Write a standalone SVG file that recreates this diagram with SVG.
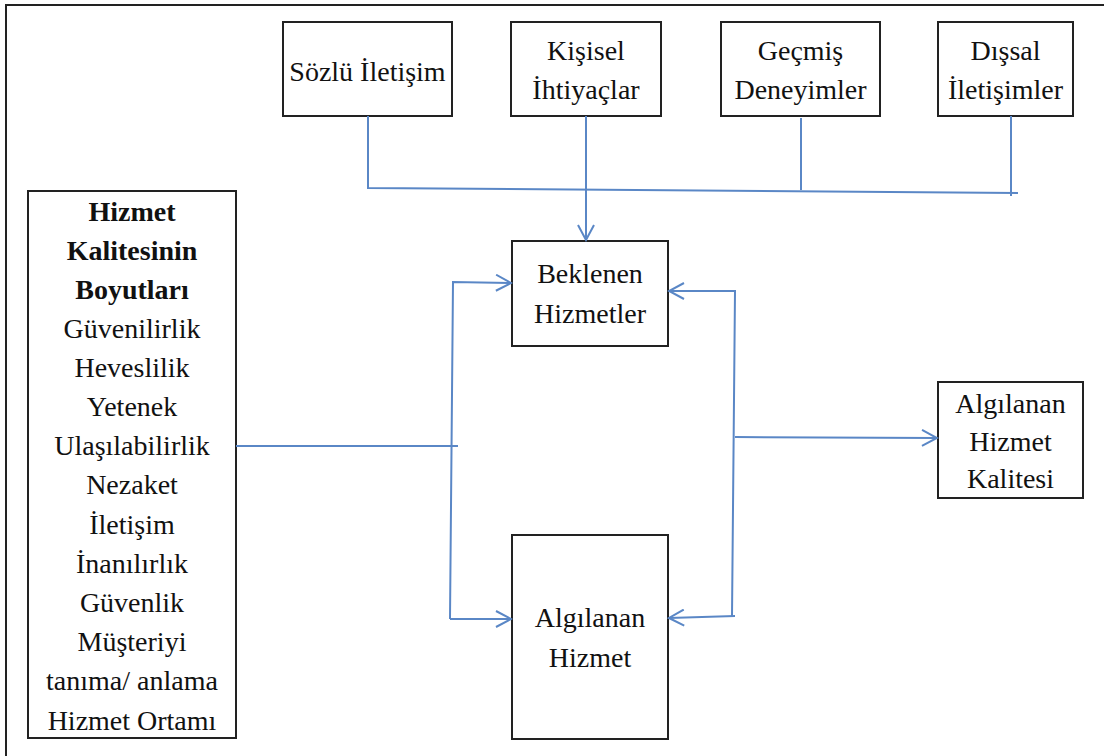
<svg xmlns="http://www.w3.org/2000/svg" width="1104" height="756" viewBox="0 0 1104 756">
<defs>
<style>
.box{fill:#fff;stroke:#222;stroke-width:2}
.t{font-family:"Liberation Serif","Times New Roman",serif;font-size:28px;fill:#111;text-anchor:middle}
.b{font-weight:bold}
.c{fill:none;stroke:#5a87c6;stroke-width:2}
</style>
<marker id="arr" markerWidth="18" markerHeight="18" viewBox="0 0 18 18" refX="16" refY="9" orient="auto" markerUnits="userSpaceOnUse">
<path d="M1,1 L16,9 L1,17" fill="none" stroke="#5a87c6" stroke-width="2"/>
</marker>
</defs>
<rect x="0" y="0" width="1104" height="756" fill="#fff"/>
<path d="M6,760 L6,5 L1110,5" fill="none" stroke="#222" stroke-width="2"/>

<g id="sozlu"><rect class="box" x="283" y="22" width="169" height="94"/><text class="t" x="367.5" y="81">Sözlü İletişim</text></g>
<g id="kisisel"><rect class="box" x="511" y="22" width="150" height="94"/><text class="t" x="586" y="60">Kişisel</text><text class="t" x="586" y="99">İhtiyaçlar</text></g>
<g id="gecmis"><rect class="box" x="721" y="22" width="159" height="94"/><text class="t" x="800.5" y="60">Geçmiş</text><text class="t" x="800.5" y="99">Deneyimler</text></g>
<g id="dissal"><rect class="box" x="938" y="22" width="135" height="94"/><text class="t" x="1005.5" y="60">Dışsal</text><text class="t" x="1005.5" y="99">İletişimler</text></g>

<g id="boyutlar"><rect class="box" x="28" y="191" width="208" height="547"/>
<text class="t b" x="132" y="221">Hizmet</text>
<text class="t b" x="132" y="260">Kalitesinin</text>
<text class="t b" x="132" y="299">Boyutları</text>
<text class="t" x="132" y="338">Güvenilirlik</text>
<text class="t" x="132" y="377">Heveslilik</text>
<text class="t" x="132" y="416">Yetenek</text>
<text class="t" x="132" y="455">Ulaşılabilirlik</text>
<text class="t" x="132" y="494">Nezaket</text>
<text class="t" x="132" y="534">İletişim</text>
<text class="t" x="132" y="573">İnanılırlık</text>
<text class="t" x="132" y="612">Güvenlik</text>
<text class="t" x="132" y="651">Müşteriyi</text>
<text class="t" x="132" y="690">tanıma/ anlama</text>
<text class="t" x="132" y="730">Hizmet Ortamı</text>
</g>

<g id="beklenen"><rect class="box" x="512" y="241" width="156" height="105"/><text class="t" x="590" y="283">Beklenen</text><text class="t" x="590" y="323">Hizmetler</text></g>
<g id="algilanan"><rect class="box" x="512" y="535" width="156" height="204"/><text class="t" x="590" y="627">Algılanan</text><text class="t" x="590" y="667">Hizmet</text></g>
<g id="kalite"><rect class="box" x="938" y="382" width="145" height="116"/><text class="t" x="1010.5" y="413">Algılanan</text><text class="t" x="1010.5" y="451">Hizmet</text><text class="t" x="1010.5" y="488">Kalitesi</text></g>

<g id="connectors">
<path class="c" d="M368,116 L368,188 L1018,193"/>
<path class="c" d="M801,118 L801,190"/>
<path class="c" d="M1011,116 L1011,196"/>
<path class="c" d="M586,116 L586,240" marker-end="url(#arr)"/>
<path class="c" d="M236,446 L458,446"/>
<path class="c" d="M450,619 L453,282 L511,283" marker-end="url(#arr)"/>
<path class="c" d="M450,619 L511,619" marker-end="url(#arr)"/>
<path class="c" d="M732,616 L735,291 L669,291" marker-end="url(#arr)"/>
<path class="c" d="M735,616 L669,618" marker-end="url(#arr)"/>
<path class="c" d="M735,437 L937,438" marker-end="url(#arr)"/>
</g>
</svg>
